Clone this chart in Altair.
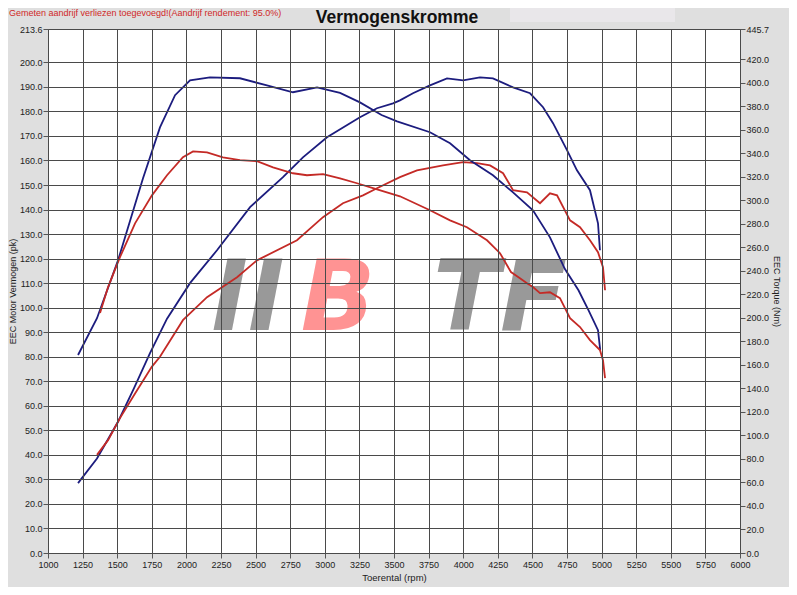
import altair as alt
import pandas as pd

# ---------------- data ----------------
# Tuned (blue) power, pk
bp_rpm = [1217, 1354, 1506, 1620, 1737, 1860, 2026, 2221, 2460, 2698, 2842, 3016, 3254, 3377,
          3493, 3543, 3637, 3760, 3883, 3999, 4121, 4215, 4360, 4483, 4577, 4649, 4750, 4822,
          4916, 4974, 4988]
bp_pk = [28.5, 38.5, 53.5, 67.0, 81.5, 95.5, 110.0, 123.4, 141.0, 153.2, 161.3, 169.5, 177.6, 181.3,
         183.3, 184.5, 187.4, 190.6, 193.5, 192.7, 193.9, 193.5, 189.8, 187.4, 181.7, 175.2, 164.2, 156.0,
         147.9, 134.4, 123.4]

# Stock (red) power, pk
rp_rpm = [1354, 1434, 1520, 1629, 1751, 1809, 1975, 2149, 2366, 2510, 2799, 2987, 3131, 3276,
          3377, 3543, 3666, 3854, 3999, 4100, 4194, 4288, 4360, 4461, 4555, 4627, 4678, 4772,
          4844, 4916, 4974, 5010, 5025]
rp_pk = [40.0, 46.0, 55.0, 65.0, 76.0, 80.0, 94.9, 104.3, 112.4, 119.3, 127.5, 136.9, 142.6, 145.8,
         148.7, 153.2, 156.0, 158.0, 159.3, 158.9, 158.0, 154.8, 147.9, 147.0, 142.6, 146.6, 145.8, 135.6,
         132.8, 127.5, 122.6, 116.5, 107.1]

# Tuned (blue) torque, Nm
bt_rpm = [1217, 1354, 1506, 1686, 1809, 1918, 2026, 2170, 2387, 2582, 2770, 2944, 3110, 3254,
          3410, 3522, 3760, 3905, 4049, 4215, 4360, 4504, 4627, 4735, 4833, 4905, 4974, 4990]
bt_nm = [168.4, 199.7, 248.9, 318.6, 362.0, 389.4, 402.1, 404.6, 403.8, 397.7, 391.9, 396.0, 391.4, 383.3,
         372.5, 367.2, 357.9, 348.5, 334.1, 321.3, 306.7, 291.5, 268.5, 241.5, 223.5, 206.6, 189.5, 172.6]

# Stock (red) torque, Nm
rt_rpm = [1376, 1434, 1520, 1629, 1751, 1860, 1975, 2048, 2149, 2264, 2387, 2510, 2626, 2770,
          2871, 2987, 3110, 3233, 3348, 3543, 3760, 3905, 4027, 4172, 4266, 4345, 4410, 4461,
          4504, 4555, 4627, 4699, 4772, 4844, 4916, 4988, 5010, 5025]
rt_nm = [204.1, 226.2, 251.6, 280.4, 304.2, 321.3, 336.6, 341.6, 340.7, 336.6, 334.1, 333.2, 328.0, 323.0,
         321.3, 322.2, 318.6, 314.5, 310.3, 303.4, 291.5, 282.9, 277.1, 266.0, 255.0, 239.0, 233.7, 229.5,
         226.2, 221.0, 221.8, 216.8, 199.7, 192.2, 181.1, 172.6, 164.0, 148.8]

series_names = ["Tuned", "Stock"]
series_colors = ["#1c1c7e", "#c42a26"]

x_ticks = list(range(1000, 6001, 250))
left_ticks = [float(v) for v in range(0, 201, 10)] + [213.6]
right_ticks = [float(v) for v in range(0, 421, 20)] + [445.7]

note_text = "Gemeten aandrijf verliezen toegevoegd!(Aandrijf rendement: 95.0%)"
title_text = "Vermogenskromme"

power_df = pd.DataFrame({
    "rpm": bp_rpm + rp_rpm,
    "pk": bp_pk + rp_pk,
    "serie": [series_names[0]] * len(bp_rpm) + [series_names[1]] * len(rp_rpm),
})
torque_df = pd.DataFrame({
    "rpm": bt_rpm + rt_rpm,
    "Nm": bt_nm + rt_nm,
    "serie": [series_names[0]] * len(bt_rpm) + [series_names[1]] * len(rt_rpm),
})

FONT = "Liberation Sans"
color_scale = alt.Scale(domain=series_names, range=series_colors)
x_scale = alt.Scale(domain=[1000, 6000], nice=False, zero=False)

x_axis = alt.Axis(values=x_ticks, format="d", grid=True, gridColor="#4a4a4a", gridWidth=1,
                  domain=False, tickSize=5, tickColor="#555", labelPadding=2,
                  labelFlush=False, labelOverlap=False, labelFontSize=9, labelColor="#222",
                  labelFont=FONT, title="Toerental (rpm)", titleFont=FONT, titleFontSize=9.5,
                  titleFontWeight="normal", titleColor="#222", titlePadding=3, zindex=1)

power = alt.Chart(power_df).mark_line(strokeWidth=1.8).encode(
    x=alt.X("rpm:Q", scale=x_scale, axis=x_axis),
    y=alt.Y("pk:Q", scale=alt.Scale(domain=[0, 213.6], nice=False, zero=True),
            axis=alt.Axis(values=left_ticks, format=".1f", grid=True, gridColor="#4a4a4a",
                          gridWidth=1, domain=False, tickSize=5, tickColor="#555",
                          labelPadding=1, labelFlush=False, labelOverlap=False,
                          labelFontSize=9, labelColor="#222", labelFont=FONT,
                          title="EEC Motor Vermogen (pk)", titleFont=FONT, titleFontSize=9,
                          titleFontWeight="normal", titleColor="#222", titlePadding=2,
                          zindex=1)),
    color=alt.Color("serie:N", scale=color_scale, legend=None),
)

torque = alt.Chart(torque_df).mark_line(strokeWidth=1.8).encode(
    x=alt.X("rpm:Q", scale=x_scale, axis=x_axis),
    y=alt.Y("Nm:Q", scale=alt.Scale(domain=[0, 445.7], nice=False, zero=True),
            axis=alt.Axis(orient="right", values=right_ticks, format=".1f", grid=False,
                          domain=False, tickSize=5, tickColor="#555", labelPadding=1,
                          labelFlush=False, labelOverlap=False, labelFontSize=9,
                          labelColor="#222", labelFont=FONT, title="EEC Torque (Nm)",
                          titleFont=FONT, titleFontSize=9, titleFontWeight="normal",
                          titleColor="#222", titlePadding=3)),
    color=alt.Color("serie:N", scale=color_scale, legend=None),
)

one = pd.DataFrame({"t": [""]})

# decorative light box at the top right
box = alt.Chart(one).mark_rect(color="#e9e7ea").encode(
    x=alt.value(462), x2=alt.value(627), y=alt.value(-21), y2=alt.value(-7))

# watermark logo
def logo_part(txt, xpos, col):
    return alt.Chart(one).mark_text(
        text=txt, font="DejaVu Sans", fontSize=98, fontWeight="bold", fontStyle="italic",
        color=col, align="center", baseline="alphabetic"
    ).encode(x=alt.value(xpos), y=alt.value(301))

GRAY = "#999999"
PINK = "#ff9393"
logo = [logo_part("II", 200, GRAY), logo_part("B", 290, PINK), logo_part("TF", 452, GRAY)]

title = alt.Chart(one).mark_text(
    text=title_text, font=FONT, fontSize=17.5, fontWeight="bold", color="#111",
    align="center", baseline="alphabetic").encode(x=alt.value(349), y=alt.value(-6))

note = alt.Chart(one).mark_text(
    text=note_text, font=FONT, fontSize=9, color="#d02828",
    align="left", baseline="alphabetic").encode(x=alt.value(-39), y=alt.value(-13))

chart = alt.layer(
    box, *logo, power, torque, title, note
).resolve_scale(y="independent").properties(
    width=692, height=524,
    autosize=alt.AutoSizeParams(type="none"),
    padding={"left": 40, "top": 21, "right": 49, "bottom": 34},
).configure(background="#dfdfdf").configure_view(fill="white", stroke="#4a4a4a")

chart.save("out.html", embed_options={"renderer": "svg", "actions": False})
